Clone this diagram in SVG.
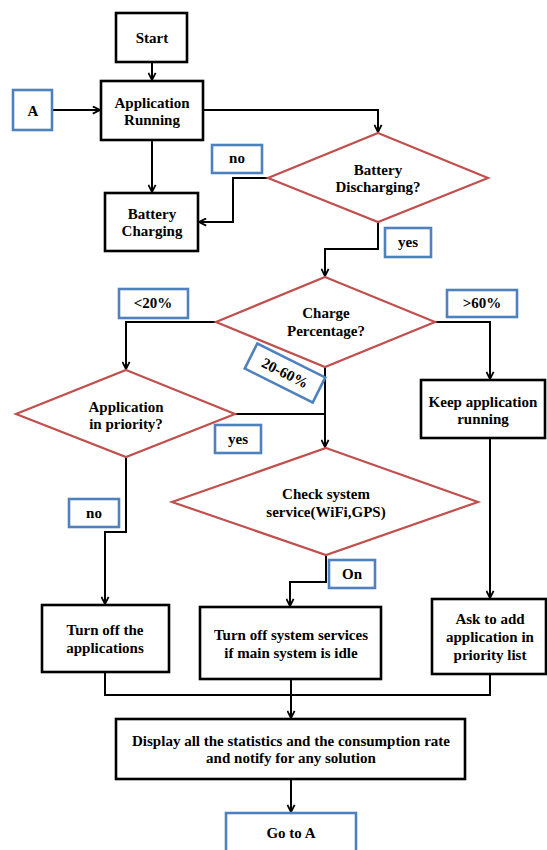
<svg xmlns="http://www.w3.org/2000/svg" width="547" height="850" viewBox="0 0 547 850">
<defs>
<marker id="arr" viewBox="0 0 10 10" refX="9" refY="5" markerWidth="9" markerHeight="9" markerUnits="userSpaceOnUse" orient="auto">
<path d="M1,1 L9,5 L1,9" fill="none" stroke="#000" stroke-width="2"/>
</marker>
</defs>
<style>
.box{fill:#fff;stroke:#000;stroke-width:2.6}
.lbl{fill:#fff;stroke:#4f81bd;stroke-width:2.6}
.dia{fill:#fff;stroke:#c0504d;stroke-width:2.2}
.con{fill:none;stroke:#000;stroke-width:2}
text{font-family:'Liberation Serif','Times New Roman',serif;font-weight:bold;font-size:15px;text-anchor:middle;fill:#000}
</style>
<rect width="547" height="850" fill="#fff"/>
<g id="connectors">
<path class="con" d="M152,62 V80" marker-end="url(#arr)"/>
<path class="con" d="M52,110 H100" marker-end="url(#arr)"/>
<path class="con" d="M152,140 V192" marker-end="url(#arr)"/>
<path class="con" d="M203,110 H378 V132" marker-end="url(#arr)"/>
<path class="con" d="M268,178 H233 V222 H199" marker-end="url(#arr)"/>
<path class="con" d="M378,222 V249 H325 V276" marker-end="url(#arr)"/>
<path class="con" d="M435,322 H490 V379" marker-end="url(#arr)"/>
<path class="con" d="M216,322 H126 V369" marker-end="url(#arr)"/>
<path class="con" d="M325,367 V447" marker-end="url(#arr)"/>
<path class="con" d="M235,414 H325"/>
<path class="con" d="M126,457 V532 H105 V604" marker-end="url(#arr)"/>
<path class="con" d="M490,438 V598" marker-end="url(#arr)"/>
<path class="con" d="M326,555 V582 H290 V606" marker-end="url(#arr)"/>
<path class="con" d="M105,672 V695 H490 V674"/>
<path class="con" d="M291,679 V718" marker-end="url(#arr)"/>
<path class="con" d="M291,779 V812" marker-end="url(#arr)"/>
</g>
<g id="start"><rect class="box" x="116" y="13" width="71" height="49"/><text x="152" y="43">Start</text></g>
<g id="a"><rect class="lbl" x="13" y="90" width="39" height="40"/><text x="33" y="116">A</text></g>
<g id="app-running"><rect class="box" x="101" y="81" width="102" height="59"/><text x="152" y="108">Application</text><text x="152" y="125">Running</text></g>
<g id="battery-charging"><rect class="box" x="105" y="193" width="93" height="58"/><text x="152" y="219">Battery</text><text x="152" y="236">Charging</text></g>
<g id="label-no1"><rect class="lbl" x="212" y="145" width="50" height="28"/><text x="237" y="163">no</text></g>
<g id="battery-discharging"><polygon class="dia" points="378,133 488,178 378,222 268,178"/><text x="378" y="175">Battery</text><text x="378" y="192">Discharging?</text></g>
<g id="label-yes1"><rect class="lbl" x="385" y="228" width="46" height="29"/><text x="408" y="247">yes</text></g>
<g id="charge-percentage"><polygon class="dia" points="325,277 435,322 325,367 216,322"/><text x="326" y="318">Charge</text><text x="326" y="336">Percentage?</text></g>
<g id="label-gt60"><rect class="lbl" x="447" y="290" width="70" height="27"/><text x="482" y="308">&gt;60%</text></g>
<g id="label-lt20"><rect class="lbl" x="119" y="289" width="69" height="29"/><text x="153" y="308">&lt;20%</text></g>
<g id="label-20-60" transform="translate(285,373) rotate(26.6)"><rect class="lbl" x="-38" y="-14" width="76" height="28"/><text x="0" y="5">20-60%</text></g>
<g id="app-priority"><polygon class="dia" points="126,370 235,414 126,457 16,414"/><text x="126" y="412">Application</text><text x="126" y="429">in priority?</text></g>
<g id="label-yes2"><rect class="lbl" x="215" y="425" width="46" height="28"/><text x="238" y="444">yes</text></g>
<g id="keep-running"><rect class="box" x="421" y="380" width="124" height="58"/><text x="483" y="407">Keep application</text><text x="483" y="424">running</text></g>
<g id="check-service"><polygon class="dia" points="326,448 478,502 326,555 172,502"/><text x="326" y="499">Check system</text><text x="326" y="517">service(WiFi,GPS)</text></g>
<g id="label-no2"><rect class="lbl" x="69" y="499" width="50" height="28"/><text x="94" y="518">no</text></g>
<g id="label-on"><rect class="lbl" x="329" y="560" width="46" height="28"/><text x="352" y="579">On</text></g>
<g id="turn-off-apps"><rect class="box" x="42" y="605" width="127" height="67"/><text x="105" y="635">Turn off the</text><text x="105" y="653">applications</text></g>
<g id="turn-off-services"><rect class="box" x="200" y="607" width="181" height="72"/><text x="291" y="640">Turn off system services</text><text x="291" y="658">if main system is idle</text></g>
<g id="ask-priority"><rect class="box" x="432" y="599" width="114" height="75"/><text x="490" y="624">Ask to add</text><text x="490" y="642">application in</text><text x="490" y="660">priority list</text></g>
<g id="display-stats"><rect class="box" x="116" y="719" width="349" height="60"/><text x="291" y="746">Display all the statistics and the consumption rate</text><text x="291" y="763">and notify for any solution</text></g>
<g id="go-to-a"><rect class="lbl" x="226" y="813" width="130" height="45"/><text x="291" y="838">Go to A</text></g>
</svg>
